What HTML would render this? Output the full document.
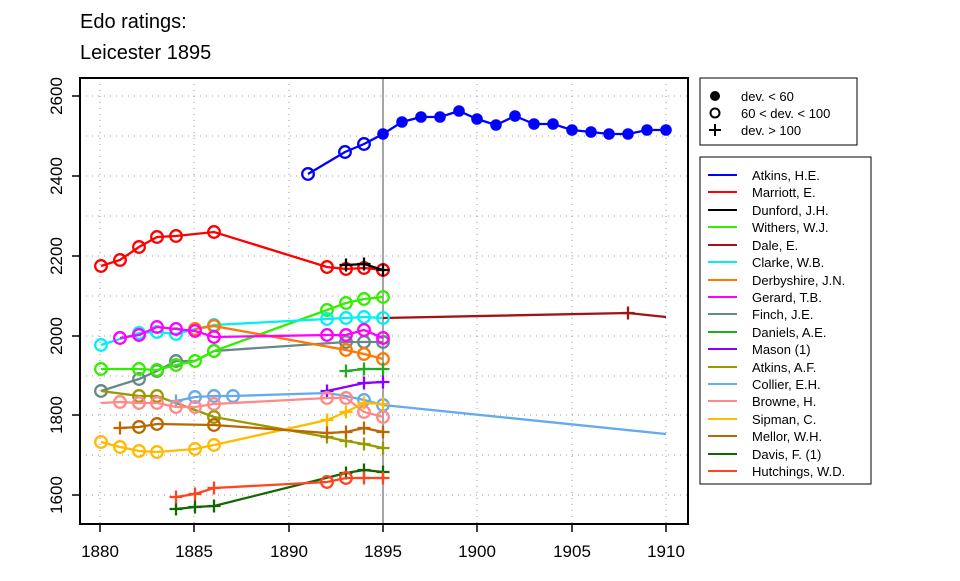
<!DOCTYPE html>
<html><head><meta charset="utf-8"><style>
body{margin:0;background:#fff;}
svg text{font-family:"Liberation Sans",Arial,sans-serif;}
g.d circle{r:5.8px;}
g.d{stroke-width:2.3px;}
</style></head><body>
<svg width="960" height="576" xmlns="http://www.w3.org/2000/svg">
<defs>
<symbol id="p" overflow="visible"><path d="M-6.5,0H6.5M0,-6.5V6.5" stroke-width="2.3"/></symbol>
</defs>
<text x="80" y="28" font-size="20">Edo ratings:</text>
<text x="80" y="59" font-size="20">Leicester 1895</text>
<!-- grid -->
<g stroke="#999" stroke-width="1" stroke-dasharray="1,5">
<line x1="80" x2="688" y1="96" y2="96"/><line x1="80" x2="688" y1="136" y2="136"/>
<line x1="80" x2="688" y1="176" y2="176"/><line x1="80" x2="688" y1="216" y2="216"/>
<line x1="80" x2="688" y1="256" y2="256"/><line x1="80" x2="688" y1="296" y2="296"/>
<line x1="80" x2="688" y1="336" y2="336"/><line x1="80" x2="688" y1="376" y2="376"/>
<line x1="80" x2="688" y1="415" y2="415"/><line x1="80" x2="688" y1="455" y2="455"/>
<line x1="80" x2="688" y1="495" y2="495"/>
<line x1="100" x2="100" y1="78" y2="524"/><line x1="194" x2="194" y1="78" y2="524"/>
<line x1="289" x2="289" y1="78" y2="524"/><line x1="477" x2="477" y1="78" y2="524"/>
<line x1="572" x2="572" y1="78" y2="524"/><line x1="666" x2="666" y1="78" y2="524"/>
</g>
<line x1="383" x2="383" y1="78" y2="524" stroke="#888" stroke-width="1.5"/>
<g class="d" fill="none" stroke-width="2">
<!-- Atkins HE -->
<g stroke="#0000ff"><polyline points="308,174 345,152 364,144 383,134 402,122 421,117 440,117 459,111 477,119 496,125 515,116 534,124 553,124 572,130 591,132 609,134 628,134 647,130 666,130"/>
<circle cx="308" cy="174" r="5"/><circle cx="345" cy="152" r="5"/><circle cx="364" cy="144" r="5"/></g>
<g fill="#0000ff"><circle cx="383" cy="134" r="5"/><circle cx="402" cy="122" r="5"/><circle cx="421" cy="117" r="5"/><circle cx="440" cy="117" r="5"/><circle cx="459" cy="111" r="5"/><circle cx="477" cy="119" r="5"/><circle cx="496" cy="125" r="5"/><circle cx="515" cy="116" r="5"/><circle cx="534" cy="124" r="5"/><circle cx="553" cy="124" r="5"/><circle cx="572" cy="130" r="5"/><circle cx="591" cy="132" r="5"/><circle cx="609" cy="134" r="5"/><circle cx="628" cy="134" r="5"/><circle cx="647" cy="130" r="5"/><circle cx="666" cy="130" r="5"/></g>
<!-- Marriott -->
<g stroke="#ff0000"><polyline points="101,266 120,260 139,247 157,237 176,236 214,232 327,267 346,269 364,268 383,270"/>
<circle cx="101" cy="266" r="5"/><circle cx="120" cy="260" r="5"/><circle cx="139" cy="247" r="5"/><circle cx="157" cy="237" r="5"/><circle cx="176" cy="236" r="5"/><circle cx="214" cy="232" r="5"/><circle cx="327" cy="267" r="5"/><circle cx="346" cy="269" r="5"/><circle cx="364" cy="268" r="5"/><circle cx="383" cy="270" r="5"/></g>
<!-- Dunford -->
<g stroke="#000"><polyline points="346,265 364,264 383,270"/><use href="#p" x="346" y="265"/><use href="#p" x="364" y="264"/><use href="#p" x="383" y="270"/></g>
<!-- Dale -->
<g stroke="#a01414"><polyline points="383,318 628,313 666,317"/><use href="#p" x="628" y="313"/></g>
<!-- Finch -->
<g stroke="#668888"><polyline points="101,391 139,379 157,371 176,361 195,361 214,351 346,342 364,342 383,342"/>
<circle cx="101" cy="391" r="5"/><circle cx="139" cy="379" r="5"/><circle cx="157" cy="371" r="5"/><circle cx="176" cy="361" r="5"/><circle cx="214" cy="351" r="5"/><circle cx="346" cy="342" r="5"/><circle cx="364" cy="342" r="5"/><circle cx="383" cy="342" r="5"/></g>
<!-- Withers -->
<g stroke="#33ee00"><polyline points="101,369 139,369 157,370 176,365 195,361 214,351 327,310 346,303 364,299 383,297"/>
<circle cx="101" cy="369" r="5"/><circle cx="139" cy="369" r="5"/><circle cx="157" cy="370" r="5"/><circle cx="176" cy="365" r="5"/><circle cx="195" cy="361" r="5"/><circle cx="214" cy="351" r="5"/><circle cx="327" cy="310" r="5"/><circle cx="346" cy="303" r="5"/><circle cx="364" cy="299" r="5"/><circle cx="383" cy="297" r="5"/></g>
<!-- Clarke -->
<g stroke="#00f0f0"><polyline points="101,345 139,333 157,332 176,334 195,329 214,325 327,319 346,318 364,317 383,318"/>
<circle cx="101" cy="345" r="5"/><circle cx="139" cy="333" r="5"/><circle cx="157" cy="332" r="5"/><circle cx="176" cy="334" r="5"/><circle cx="214" cy="325" r="5"/><circle cx="327" cy="319" r="5"/><circle cx="346" cy="318" r="5"/><circle cx="364" cy="317" r="5"/><circle cx="383" cy="318" r="5"/></g>
<!-- Derbyshire -->
<g stroke="#ff7700"><polyline points="195,329 214,326 346,350 364,354 383,359"/>
<circle cx="195" cy="329" r="5"/><circle cx="214" cy="326" r="5"/><circle cx="346" cy="350" r="5"/><circle cx="364" cy="354" r="5"/><circle cx="383" cy="359" r="5"/></g>
<!-- Gerard -->
<g stroke="#ff00ff"><polyline points="120,338 139,335 157,327 176,329 195,331 214,337 327,335 346,335 364,330 383,338"/>
<circle cx="120" cy="338" r="5"/><circle cx="139" cy="335" r="5"/><circle cx="157" cy="327" r="5"/><circle cx="176" cy="329" r="5"/><circle cx="195" cy="331" r="5"/><circle cx="214" cy="337" r="5"/><circle cx="327" cy="335" r="5"/><circle cx="346" cy="335" r="5"/><circle cx="364" cy="330" r="5"/><circle cx="383" cy="338" r="5"/></g>
<!-- Daniels -->
<g stroke="#22aa22"><polyline points="346,371 364,369 383,369"/><use href="#p" x="346" y="371"/><use href="#p" x="364" y="369"/><use href="#p" x="383" y="369"/></g>
<!-- Mason -->
<g stroke="#8800ff"><polyline points="327,391 364,383 383,382"/><use href="#p" x="327" y="391"/><use href="#p" x="364" y="383"/><use href="#p" x="383" y="382"/></g>
<!-- Atkins AF -->
<g stroke="#999900"><polyline points="101,391 139,396 157,396 214,417 327,437 346,441 364,444 383,448"/>
<circle cx="139" cy="396" r="5"/><circle cx="157" cy="396" r="5"/><circle cx="214" cy="417" r="5"/><use href="#p" x="327" y="437"/><use href="#p" x="346" y="441"/><use href="#p" x="364" y="444"/><use href="#p" x="383" y="448"/></g>
<!-- Collier -->
<g stroke="#66aaee"><polyline points="176,401 195,397 214,396 233,396 327,393 346,396 364,400 383,405 666,434"/>
<use href="#p" x="176" y="401"/><circle cx="195" cy="397" r="5"/><circle cx="214" cy="396" r="5"/><circle cx="233" cy="396" r="5"/><circle cx="364" cy="400" r="5"/><circle cx="383" cy="405" r="5"/></g>
<!-- Browne -->
<g stroke="#ff8888"><polyline points="101,403 120,402 139,403 157,403 176,407 195,407 214,404 327,398 346,398 364,412 383,417"/>
<circle cx="120" cy="402" r="5"/><circle cx="139" cy="403" r="5"/><circle cx="157" cy="403" r="5"/><circle cx="176" cy="407" r="5"/><circle cx="195" cy="407" r="5"/><circle cx="214" cy="404" r="5"/><circle cx="327" cy="398" r="5"/><circle cx="346" cy="398" r="5"/><circle cx="364" cy="412" r="5"/><circle cx="383" cy="417" r="5"/></g>
<!-- Sipman -->
<g stroke="#ffbb00"><polyline points="101,442 120,447 139,451 157,452 195,449 214,445 327,420 346,412 364,403 383,404"/>
<circle cx="101" cy="442" r="5"/><circle cx="120" cy="447" r="5"/><circle cx="139" cy="451" r="5"/><circle cx="157" cy="452" r="5"/><circle cx="195" cy="449" r="5"/><circle cx="214" cy="445" r="5"/><use href="#p" x="327" y="420"/><use href="#p" x="346" y="412"/><use href="#p" x="364" y="403"/><use href="#p" x="383" y="404"/></g>
<!-- Mellor -->
<g stroke="#bb6600"><polyline points="120,428 139,427 157,424 214,425 327,433 346,432 364,428 383,432"/>
<use href="#p" x="120" y="428"/><circle cx="139" cy="427" r="5"/><circle cx="157" cy="424" r="5"/><circle cx="214" cy="425" r="5"/><use href="#p" x="327" y="433"/><use href="#p" x="346" y="432"/><use href="#p" x="364" y="428"/><use href="#p" x="383" y="432"/></g>
<!-- Davis -->
<g stroke="#116600"><polyline points="176,509 195,507 214,506 346,473 364,470 383,472"/>
<use href="#p" x="176" y="509"/><use href="#p" x="195" y="507"/><use href="#p" x="214" y="506"/><use href="#p" x="346" y="473"/><use href="#p" x="364" y="470"/><use href="#p" x="383" y="472"/></g>
<!-- Hutchings -->
<g stroke="#ff4422"><polyline points="176,497 195,494 214,488 327,482 346,478 364,478 383,478"/>
<use href="#p" x="176" y="497"/><use href="#p" x="195" y="494"/><use href="#p" x="214" y="488"/><circle cx="327" cy="482" r="5"/><circle cx="346" cy="478" r="5"/><use href="#p" x="364" y="478"/><use href="#p" x="383" y="478"/></g>
</g>
<!-- axes box -->
<rect x="80" y="78" width="608" height="446" fill="none" stroke="#000" stroke-width="2"/>
<g stroke="#000" stroke-width="1.5">
<line x1="100" x2="100" y1="524" y2="532"/><line x1="194" x2="194" y1="524" y2="532"/><line x1="289" x2="289" y1="524" y2="532"/><line x1="383" x2="383" y1="524" y2="532"/><line x1="477" x2="477" y1="524" y2="532"/><line x1="572" x2="572" y1="524" y2="532"/><line x1="666" x2="666" y1="524" y2="532"/>
<line x1="72" x2="80" y1="96" y2="96"/><line x1="72" x2="80" y1="176" y2="176"/><line x1="72" x2="80" y1="256" y2="256"/><line x1="72" x2="80" y1="336" y2="336"/><line x1="72" x2="80" y1="415" y2="415"/><line x1="72" x2="80" y1="495" y2="495"/>
</g>
<g font-size="17" text-anchor="middle">
<text x="100" y="557">1880</text><text x="194" y="557">1885</text><text x="289" y="557">1890</text><text x="383" y="557">1895</text><text x="477" y="557">1900</text><text x="572" y="557">1905</text><text x="666" y="557">1910</text>
<text transform="translate(62,96) rotate(-90)">2600</text>
<text transform="translate(62,176) rotate(-90)">2400</text>
<text transform="translate(62,256) rotate(-90)">2200</text>
<text transform="translate(62,336) rotate(-90)">2000</text>
<text transform="translate(62,415) rotate(-90)">1800</text>
<text transform="translate(62,495) rotate(-90)">1600</text>
</g>
<!-- legend 1 -->
<rect x="700" y="78" width="157" height="67" fill="#fff" stroke="#000"/>
<circle cx="715" cy="96" r="5" fill="#000"/>
<circle cx="715" cy="113" r="4.5" fill="none" stroke="#000" stroke-width="2"/>
<path d="M709,130H721M715,124V136" stroke="#000" stroke-width="2"/>
<g font-size="13"><text x="741" y="101">dev. &lt; 60</text><text x="741" y="118">60 &lt; dev. &lt; 100</text><text x="741" y="135">dev. &gt; 100</text></g>
<!-- legend 2 -->
<rect x="700" y="157" width="171" height="327" fill="#fff" stroke="#000"/>
<g stroke-width="2">
<line x1="708" x2="737" y1="175" y2="175" stroke="#0000ff"/>
<line x1="708" x2="737" y1="192" y2="192" stroke="#ff0000"/>
<line x1="708" x2="737" y1="210" y2="210" stroke="#000"/>
<line x1="708" x2="737" y1="227" y2="227" stroke="#33ee00"/>
<line x1="708" x2="737" y1="245" y2="245" stroke="#a01414"/>
<line x1="708" x2="737" y1="262" y2="262" stroke="#00f0f0"/>
<line x1="708" x2="737" y1="280" y2="280" stroke="#ff7700"/>
<line x1="708" x2="737" y1="297" y2="297" stroke="#ff00ff"/>
<line x1="708" x2="737" y1="314" y2="314" stroke="#668888"/>
<line x1="708" x2="737" y1="332" y2="332" stroke="#22aa22"/>
<line x1="708" x2="737" y1="349" y2="349" stroke="#8800ff"/>
<line x1="708" x2="737" y1="367" y2="367" stroke="#999900"/>
<line x1="708" x2="737" y1="384" y2="384" stroke="#66aaee"/>
<line x1="708" x2="737" y1="401" y2="401" stroke="#ff8888"/>
<line x1="708" x2="737" y1="419" y2="419" stroke="#ffbb00"/>
<line x1="708" x2="737" y1="436" y2="436" stroke="#bb6600"/>
<line x1="708" x2="737" y1="454" y2="454" stroke="#116600"/>
<line x1="708" x2="737" y1="471" y2="471" stroke="#ff4422"/>
</g>
<g font-size="13">
<text x="752" y="180">Atkins, H.E.</text><text x="752" y="197">Marriott, E.</text><text x="752" y="215">Dunford, J.H.</text><text x="752" y="232">Withers, W.J.</text><text x="752" y="250">Dale, E.</text><text x="752" y="267">Clarke, W.B.</text><text x="752" y="285">Derbyshire, J.N.</text><text x="752" y="302">Gerard, T.B.</text><text x="752" y="319">Finch, J.E.</text><text x="752" y="337">Daniels, A.E.</text><text x="752" y="354">Mason (1)</text><text x="752" y="372">Atkins, A.F.</text><text x="752" y="389">Collier, E.H.</text><text x="752" y="406">Browne, H.</text><text x="752" y="424">Sipman, C.</text><text x="752" y="441">Mellor, W.H.</text><text x="752" y="459">Davis, F. (1)</text><text x="752" y="476">Hutchings, W.D.</text>
</g>
</svg>
</body></html>
